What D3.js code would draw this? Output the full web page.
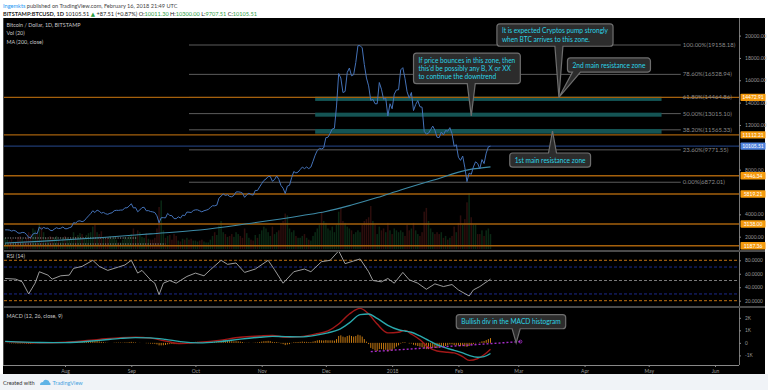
<!DOCTYPE html>
<html><head><meta charset="utf-8">
<script src="https://cdn.jsdelivr.net/npm/d3@7"></script>
<style>
html,body{margin:0;padding:0;background:#fff;}
svg{display:block;font-family:Lato,"Open Sans","DejaVu Sans",sans-serif;}
</style></head><body>
<svg id="c" width="768" height="390"></svg>
<script>
// ---------------- DATA ----------------
const startDate = "2017-07-04"; // first daily bar
const closes = [
// Jul 4-31
2610,2610,2590,2500,2560,2500,2330,2310,2380,2360,2200,1940,1920,2230,2320,2270,2870,2670,2830,2740,2760,2580,2530,2680,2800,2720,2750,2870,
// Aug
2710,2710,2800,2860,3250,3220,3390,3420,3340,3420,3650,3860,4060,4320,4160,4380,4280,4110,4170,4050,4000,4090,4140,4320,4360,4350,4380,4380,4580,4580,4740,
// Sep
4950,4570,4600,4230,4390,4600,4630,4320,4330,4250,4220,4160,3870,3240,3700,3700,3680,4080,3900,3880,3620,3610,3780,3660,3930,3880,4200,4190,4160,4340,
// Oct
4400,4400,4310,4220,4320,4370,4440,4610,4770,4760,4820,5440,5640,5820,5690,5750,5600,5570,5700,6000,6010,5980,5900,5520,5740,5890,5770,5720,6140,6130,6450,
// Nov
6750,7030,7160,7380,7390,6960,7110,7440,7130,6580,6340,5860,6530,6600,7280,7830,7700,7780,8010,8230,8090,8240,8090,8230,8750,9300,9720,9900,9850,9950,
// Dec
10860,10900,11250,11640,11700,13700,16600,16200,14900,15000,16700,17100,16400,16500,17600,19100,19100,18900,17400,16200,15500,14200,14300,13900,13900,15800,15200,14300,14400,12800,13900,
// Jan
13450,14760,15130,15150,16930,17130,16180,14970,14400,14910,13290,13830,14190,13630,13590,11430,11180,11260,11580,11900,11530,10900,10870,11360,11110,11500,11440,11760,11220,10100,10230,
// Feb 1-16
9110,8830,9220,8190,6930,7690,7580,8240,8700,8550,8070,8900,8540,9480,10040,10105.51
];
const volumes = [
12,10,9,11,8,8,13,14,11,9,12,18,16,22,20,17,28,24,18,12,11,14,13,12,14,10,8,12,
14,12,10,11,18,13,15,17,16,12,15,17,18,24,26,18,16,19,13,11,12,14,11,13,10,7,7,10,13,11,14,
16,22,15,20,18,13,12,17,11,10,10,12,22,45,52,20,12,14,15,10,16,14,9,8,11,10,12,10,11,9,
9,8,9,10,8,7,7,10,14,18,15,25,30,18,16,13,14,16,13,18,16,14,12,22,17,12,10,9,15,12,16,
20,24,22,18,14,24,16,18,20,28,30,38,36,22,18,20,14,12,12,14,16,12,10,9,14,18,22,26,40,30,
28,22,20,24,18,26,40,44,30,28,24,22,20,16,18,20,18,26,30,32,34,46,30,26,16,24,20,22,18,28,20,
16,22,20,18,20,18,14,26,20,22,28,20,16,14,18,40,44,30,22,18,16,18,16,18,12,14,10,12,14,24,18,
28,36,26,32,50,60,34,26,26,16,16,20,14,20,22,16
];
const macdHist = [
-0.02,-0.02,-0.03,-0.04,-0.04,-0.05,-0.06,-0.06,-0.05,-0.05,-0.06,-0.08,-0.08,-0.05,-0.03,-0.02,0.04,0.05,0.07,0.07,0.06,0.04,0.02,0.02,0.03,0.02,0.02,0.03,
0.02,0.01,0.02,0.03,0.07,0.08,0.1,0.11,0.1,0.1,0.12,0.14,0.16,0.18,0.15,0.15,0.12,0.08,0.06,0.03,0.01,0.0,0.0,0.02,0.03,0.03,0.03,0.02,0.04,0.04,0.06,
0.08,0.05,0.04,0.0,-0.01,0.0,0.0,-0.03,-0.04,-0.06,-0.07,-0.08,-0.12,-0.2,-0.2,-0.19,-0.17,-0.12,-0.1,-0.09,-0.1,-0.1,-0.07,-0.06,-0.02,-0.01,0.03,0.04,0.05,0.07,
0.08,0.08,0.07,0.05,0.05,0.05,0.05,0.07,0.09,0.09,0.1,0.16,0.2,0.23,0.22,0.2,0.16,0.13,0.12,0.13,0.12,0.1,0.07,0.02,0.01,0.02,0.0,-0.01,0.03,0.04,0.07,
0.1,0.13,0.14,0.16,0.14,0.08,0.06,0.07,0.03,-0.05,-0.1,-0.18,-0.13,-0.1,-0.02,0.05,0.06,0.07,0.08,0.1,0.08,0.08,0.06,0.06,0.1,0.15,0.2,0.22,0.2,0.19,
0.22,0.2,0.2,0.2,0.18,0.3,0.55,0.6,0.5,0.45,0.55,0.6,0.55,0.5,0.55,0.65,0.6,0.5,0.3,0.1,-0.1,-0.4,-0.5,-0.6,-0.65,-0.5,-0.5,-0.55,-0.55,-0.7,-0.6,
-0.6,-0.45,-0.3,-0.2,-0.05,0.05,0.05,0.0,-0.05,-0.05,-0.15,-0.2,-0.25,-0.3,-0.35,-0.45,-0.5,-0.5,-0.45,-0.4,-0.4,-0.42,-0.38,-0.3,-0.28,-0.25,-0.2,-0.12,-0.12,-0.18,-0.2,
-0.22,-0.26,-0.22,-0.28,-0.32,-0.25,-0.18,-0.1,-0.04,0.0,0.05,0.12,0.15,0.22,0.3,0.38
];
const ma200 = [["2017-07-04",1430],["2017-07-20",1580],["2017-08-17",1900],["2017-09-10",2250],["2017-10-03",2600],["2017-10-25",3150],["2017-11-20",3890],["2017-12-01",4250],["2017-12-13",4830],["2017-12-25",5500],["2018-01-05",6180],["2018-01-20",7050],["2018-02-06",8000],["2018-02-16",8250]];
const rsiPoints = [["2017-07-04",53],["2017-07-09",52],["2017-07-12",48],["2017-07-15",30],["2017-07-18",46],["2017-07-20",63],["2017-07-24",58],["2017-07-26",52],["2017-07-30",57],["2017-08-03",58],["2017-08-05",68],["2017-08-09",71],["2017-08-14",80],["2017-08-17",71],["2017-08-21",65],["2017-08-26",70],["2017-08-29",73],["2017-09-01",80],["2017-09-04",61],["2017-09-06",65],["2017-09-10",51],["2017-09-12",46],["2017-09-14",29],["2017-09-16",46],["2017-09-19",50],["2017-09-22",46],["2017-09-27",56],["2017-10-01",61],["2017-10-05",57],["2017-10-08",66],["2017-10-13",80],["2017-10-16",74],["2017-10-20",76],["2017-10-24",62],["2017-10-29",67],["2017-11-04",80],["2017-11-07",66],["2017-11-11",46],["2017-11-16",63],["2017-11-21",67],["2017-11-24",63],["2017-11-29",78],["2017-12-03",80],["2017-12-07",94],["2017-12-10",75],["2017-12-14",79],["2017-12-17",82],["2017-12-21",63],["2017-12-23",50],["2017-12-27",48],["2017-12-30",53],["2018-01-02",46],["2018-01-06",62],["2018-01-09",51],["2018-01-13",46],["2018-01-17",37],["2018-01-21",45],["2018-01-25",41],["2018-01-29",44],["2018-02-01",36],["2018-02-06",27],["2018-02-08",36],["2018-02-11",41],["2018-02-16",52]];
const macdDates = ["2017-07-04","2017-07-20","2017-08-01","2017-08-17","2017-08-27","2017-09-03","2017-09-10","2017-09-17","2017-09-24","2017-10-03","2017-10-12","2017-10-22","2017-10-31","2017-11-06","2017-11-12","2017-11-19","2017-11-26","2017-12-02","2017-12-07","2017-12-12","2017-12-17","2017-12-21","2017-12-25","2017-12-30","2018-01-04","2018-01-07","2018-01-10","2018-01-14","2018-01-18","2018-01-22","2018-01-27","2018-01-30","2018-02-03","2018-02-06","2018-02-10","2018-02-13","2018-02-16"];
const macdValues = [0.10,0.00,0.05,0.28,0.42,0.45,0.38,0.15,-0.05,0.05,0.20,0.45,0.55,0.60,0.45,0.50,0.70,0.95,1.50,2.30,2.75,2.30,1.50,0.80,0.85,1.00,0.70,0.25,-0.35,-0.65,-0.75,-0.80,-1.10,-1.40,-1.25,-0.95,-0.50];
const signalValues = [0.12,0.03,0.02,0.20,0.36,0.42,0.40,0.28,0.10,0.00,0.10,0.30,0.45,0.52,0.50,0.48,0.60,0.80,1.05,1.60,2.25,2.30,1.95,1.40,1.05,0.95,0.85,0.55,0.20,-0.15,-0.45,-0.60,-0.80,-1.00,-1.15,-1.10,-0.85];
const fibPcts = ["100.00%","78.60%","61.80%","50.00%","38.20%","23.60%","0.00%"];
const fibValues = [19158.18,16528.94,14464.86,13015.10,11565.33,9771.55,6872.01];
const fibRange = ["2017-09-28","2018-05-16"];
const zoneRange = ["2017-11-26","2018-05-07"];
const zones = [[14150,14530],[12740,13100],[11220,11640]];
const hLevels = [14472.91,11112.21,7446.34,5819.21,3138.00,1187.36];
const lastPrice = 10105.51;
const dottedLevels = [[1880,"2017-07-04","2017-09-04"],[1340,"2017-07-04","2017-09-17"]];
const priceTicks = [2000,4000,8000,12000,14000,16000,18000,20000];
const rsiTicks = [20,40,60,80];
const rsiBands = [80,70,50,30,20];
const macdTicks = [-1,0,1,2];
const monthTicks = ["2017-08-01","2017-09-01","2017-10-01","2017-11-01","2017-12-01","2018-01-01","2018-02-01","2018-03-01","2018-04-01","2018-05-01","2018-06-01"];
const monthLabels = ["Aug","Sep","Oct","Nov","Dec","2018","Feb","Mar","Apr","May","Jun"];
const divLine = [["2017-12-22",-0.7],["2018-03-02",0.1]];
const notes = [
 {pane:"main", box:["2018-02-19",21050], tip:["2018-03-20",14465], side:"bottom", lines:["It is expected Cryptos pump strongly","when BTC arrives to this zone."]},
 {pane:"main", box:["2018-03-24",18000], tip:["2018-03-20",14465], side:"bottom", baseDx:9, lines:["2nd main resistance zone"]},
 {pane:"main", box:["2018-01-11",18440], tip:["2018-02-07",12800], side:"bottom", lines:["If price bounces in this zone, then","this'd be possibly any B, X or XX","to continue the downtrend"]},
 {pane:"main", box:["2018-02-25",9490], tip:["2018-03-17",11460], side:"top", lines:["1st main resistance zone"]},
 {pane:"macd", box:["2018-01-31",2.26], tip:["2018-02-28",0], side:"bottom", lines:["Bullish div in the MACD histogram"]}
];

// ---------------- DRAW ----------------
const P = d3.utcParse("%Y-%m-%d");
const svg = d3.select("#c");
const L = {left:4, right:739, mainTop:19, mainBot:250, rsiTop:252, rsiBot:306, macdTop:308, macdBot:365};
const x = d3.scaleUtc().domain([P("2017-08-01"), P("2018-06-01")]).range([65, 715]);
const y = d3.scaleLinear().domain([0,20000]).range([259, 35.6]);
const yv = d3.scaleLinear().domain([0,60]).range([249, 193]);
const yr = d3.scaleLinear().domain([20,80]).range([300.7, 260.3]);
const ym = d3.scaleLinear().domain([-1,2]).range([355.4, 317.8]);
const d0 = P(startDate);
const days = closes.map((c,i)=>d3.utcDay.offset(d0,i));

// backgrounds
svg.append("rect").attr("x",0).attr("y",0).attr("width",768).attr("height",390).attr("fill","#fff");
svg.append("rect").attr("x",0).attr("y",374).attr("width",768).attr("height",16).attr("fill","#f0f3f7");
svg.append("rect").attr("x",3).attr("y",18).attr("width",762).attr("height",356).attr("fill","#000");

const defs = svg.append("defs");
function clip(id,y0,y1){defs.append("clipPath").attr("id",id).append("rect").attr("x",L.left).attr("y",y0).attr("width",L.right-L.left).attr("height",y1-y0);}
clip("cm",L.mainTop,L.mainBot); clip("cr",L.rsiTop,L.rsiBot); clip("cd",L.macdTop,L.macdBot);

// header
const h1 = svg.append("text").attr("x",3).attr("y",7.5).attr("font-size",5.6).attr("fill","#444");
h1.append("tspan").attr("fill","#2196f3").text("Ingemkts");
h1.append("tspan").text(" published on TradingView.com, February 16, 2018 21:49 UTC");
const h2 = svg.append("text").attr("x",3).attr("y",16).attr("font-size",5.6).attr("fill","#222");
h2.append("tspan").attr("font-weight","bold").text("BITSTAMP:BTCUSD, 1D");
h2.append("tspan").text("  10105.51 ");
h2.append("tspan").attr("fill","#2e9e44").text("▲");
h2.append("tspan").text(" +87.51 (+0.87%) O:");
h2.append("tspan").attr("fill","#2e9e44").text("10011.30");
h2.append("tspan").text(" H:");
h2.append("tspan").attr("fill","#2e9e44").text("10300.00");
h2.append("tspan").text(" L:");
h2.append("tspan").attr("fill","#2e9e44").text("9707.51");
h2.append("tspan").text(" C:");
h2.append("tspan").attr("fill","#2e9e44").text("10105.51");

// ---- main pane
const gm = svg.append("g").attr("clip-path","url(#cm)");
// volume
const bw = (x(d3.utcDay.offset(d0,1))-x(d0))*0.7;
gm.append("g").selectAll("rect").data(volumes).join("rect")
  .attr("x",(v,i)=>x(days[i])-bw/2).attr("width",bw)
  .attr("y",v=>yv(v)).attr("height",v=>yv(0)-yv(v))
  .attr("fill",(v,i)=> (i===0 || closes[i]>=closes[i-1]) ? "#1f7a3c" : "#8a2a28").attr("opacity",0.33);
// fib lines
gm.append("g").selectAll("line").data(fibValues).join("line")
  .attr("x1",x(P(fibRange[0]))).attr("x2",x(P(fibRange[1])))
  .attr("y1",v=>y(v)).attr("y2",v=>y(v)).attr("stroke","#5c5c5c").attr("stroke-width",1);
// zones
gm.append("g").selectAll("rect").data(zones).join("rect")
  .attr("x",x(P(zoneRange[0]))).attr("width",x(P(zoneRange[1]))-x(P(zoneRange[0])))
  .attr("y",z=>y(z[1])).attr("height",z=>y(z[0])-y(z[1])).attr("fill","#145454");
// orange levels
gm.append("g").selectAll("line").data(hLevels).join("line")
  .attr("x1",L.left).attr("x2",L.right).attr("y1",v=>y(v)).attr("y2",v=>y(v))
  .attr("stroke","#a5600c").attr("stroke-width",1.4);
// last price line
gm.append("line").attr("x1",L.left).attr("x2",L.right).attr("y1",y(lastPrice)).attr("y2",y(lastPrice))
  .attr("stroke","#1e3a72").attr("stroke-width",1.3);
// dotted
gm.append("g").selectAll("line").data(dottedLevels).join("line")
  .attr("x1",d=>x(P(d[1]))).attr("x2",d=>x(P(d[2]))).attr("y1",d=>y(d[0])).attr("y2",d=>y(d[0]))
  .attr("stroke","#cfcfcf").attr("stroke-width",0.8).attr("stroke-dasharray","1,1.5");
// MA200
gm.append("path").datum(ma200).attr("fill","none").attr("stroke","#3d8aa6").attr("stroke-width",1.1)
  .attr("d",d3.line().curve(d3.curveMonotoneX).x(d=>x(P(d[0]))).y(d=>y(d[1])));
// price
gm.append("path").datum(closes).attr("fill","none").attr("stroke","#4472b8").attr("stroke-width",1)
  .attr("d",d3.line().x((c,i)=>x(days[i])).y(c=>y(c)));
// fib labels
svg.append("g").selectAll("text").data(fibValues).join("text")
  .attr("x",x(P(fibRange[1]))+2).attr("y",v=>y(v)+2).attr("font-size",6).attr("fill","#8a8a8a")
  .text((v,i)=>fibPcts[i]+"("+d3.format(".2f")(v)+")");
// pane labels
[["Bitcoin / Dollar, 1D, BITSTAMP",26.5],["Vol (20)",35],["MA (200, close)",43.5],["RSI (14)",258],["MACD (12, 26, close, 9)",318]]
 .forEach(t=>svg.append("text").attr("x",6.5).attr("y",t[1]).attr("font-size",5.4).attr("fill","#c8c8c8").text(t[0]));

// ---- RSI pane
const gr = svg.append("g").attr("clip-path","url(#cr)");
const bandCol = {80:"#c07010",70:"#1c2a8c",50:"#7a7a7a",30:"#1c2a8c",20:"#c07010"};
gr.append("g").selectAll("line").data(rsiBands).join("line")
  .attr("x1",L.left).attr("x2",L.right).attr("y1",v=>yr(v)).attr("y2",v=>yr(v))
  .attr("stroke",v=>bandCol[v]).attr("stroke-width",1).attr("stroke-dasharray","3,2");
gr.append("path").datum(rsiPoints).attr("fill","none").attr("stroke","#ababab").attr("stroke-width",0.9)
  .attr("d",d3.line().x(d=>x(P(d[0]))).y(d=>yr(d[1])));

// ---- MACD pane
const gd = svg.append("g").attr("clip-path","url(#cd)");
gd.append("g").selectAll("line").data(macdHist).join("line")
  .attr("x1",(v,i)=>x(days[i])).attr("x2",(v,i)=>x(days[i]))
  .attr("y1",ym(0)).attr("y2",v=>ym(v)).attr("stroke","#c77a12").attr("stroke-width",1);
const mline = d3.line().curve(d3.curveMonotoneX).x(d=>x(P(d[0]))).y(d=>ym(d[1]));
gd.append("path").datum(macdDates.map((d,i)=>[d,macdValues[i]])).attr("fill","none").attr("stroke","#a31818").attr("stroke-width",1.4).attr("d",mline);
gd.append("path").datum(macdDates.map((d,i)=>[d,signalValues[i]])).attr("fill","none").attr("stroke","#2aa9ad").attr("stroke-width",1.4).attr("d",mline);
gd.append("path").datum(divLine).attr("fill","none").attr("stroke","#a42cc8").attr("stroke-width",1.4)
  .attr("stroke-dasharray","2,2").attr("d",d3.line().x(d=>x(P(d[0]))).y(d=>ym(d[1])));
gd.append("circle").attr("cx",x(P(divLine[1][0]))).attr("cy",ym(divLine[1][1])).attr("r",1.5)
  .attr("fill","none").attr("stroke","#a42cc8").attr("stroke-width",0.8);

// ---- frames
const fr = svg.append("g").attr("stroke","#4a4a4a");
fr.append("line").attr("x1",3.5).attr("x2",3.5).attr("y1",18).attr("y2",L.macdBot);
fr.append("line").attr("x1",L.right+0.5).attr("x2",L.right+0.5).attr("y1",18).attr("y2",L.macdBot).attr("stroke","#777");
fr.append("line").attr("x1",3).attr("x2",765).attr("y1",251).attr("y2",251).attr("stroke-width",2);
fr.append("line").attr("x1",3).attr("x2",765).attr("y1",307).attr("y2",307).attr("stroke-width",2);
fr.append("line").attr("x1",3).attr("x2",L.right).attr("y1",L.macdBot+0.5).attr("y2",L.macdBot+0.5).attr("stroke","#888");

// axes
function styleAxis(g,fs){g.select(".domain").remove();g.selectAll("line").attr("stroke","#888");g.selectAll("text").attr("fill","#9a9a9a").attr("font-size",fs).attr("font-family","Lato,'Open Sans',sans-serif");}
svg.append("g").attr("transform",`translate(${L.right},0)`)
  .call(d3.axisRight(y).tickValues(priceTicks).tickSize(2).tickPadding(4).tickFormat(d3.format(".2f")))
  .call(g=>styleAxis(g,5));
svg.append("g").attr("transform",`translate(${L.right},0)`)
  .call(d3.axisRight(yr).tickValues(rsiTicks).tickSize(2).tickPadding(4).tickFormat(d3.format(".4f")))
  .call(g=>styleAxis(g,4.8));
svg.append("g").attr("transform",`translate(${L.right},0)`)
  .call(d3.axisRight(ym).tickValues(macdTicks).tickSize(2).tickPadding(4).tickFormat(v=>v===0?"0":v+"K"))
  .call(g=>styleAxis(g,4.8));
svg.append("g").attr("transform",`translate(0,${L.macdBot})`)
  .call(d3.axisBottom(x).tickValues(monthTicks.map(P)).tickSize(2).tickPadding(2).tickFormat((d,i)=>monthLabels[i]))
  .call(g=>styleAxis(g,5));

// price labels on axis
function axLabel(v,col){
  const g = svg.append("g");
  g.append("rect").attr("x",L.right+1.5).attr("y",y(v)-3.7).attr("width",25).attr("height",7.4).attr("fill",col).attr("rx",0.8);
  g.append("text").attr("x",L.right+14).attr("y",y(v)+1.9).attr("text-anchor","middle").attr("font-size",5).attr("fill","#fff")
   .text(d3.format(".2f")(v));
}
hLevels.forEach(v=>axLabel(v,"#f59a0c"));
axLabel(lastPrice,"#4f82dd");

// callouts
function callout(n){
  const ys = n.pane==="main"?y:ym;
  const bx = x(P(n.box[0])), by = ys(n.box[1]);
  const tx = x(P(n.tip[0])), ty = ys(n.tip[1]);
  const g = svg.append("g");
  const fs = 6.6, lh = 8.2;
  const tmp = g.append("g");
  let w = 0;
  n.lines.forEach((t)=>{const e = tmp.append("text").attr("font-size",fs).text(t); w=Math.max(w,e.node().getComputedTextLength());});
  tmp.remove();
  const W = w+10, H = n.lines.length*lh+6, r=3;
  const x0=bx, x1=bx+W, y0=by, y1=by+H;
  const bc = n.baseDx!=null ? x0+n.baseDx : tx, hw=4;
  let p;
  if(n.side==="bottom"){
    p = `M${x0+r},${y0}H${x1-r}A${r},${r} 0 0 1 ${x1},${y0+r}V${y1-r}A${r},${r} 0 0 1 ${x1-r},${y1}H${bc+hw}L${tx},${ty}L${bc-hw},${y1}H${x0+r}A${r},${r} 0 0 1 ${x0},${y1-r}V${y0+r}A${r},${r} 0 0 1 ${x0+r},${y0}Z`;
  } else {
    p = `M${x0+r},${y0}H${bc-hw}L${tx},${ty}L${bc+hw},${y0}H${x1-r}A${r},${r} 0 0 1 ${x1},${y0+r}V${y1-r}A${r},${r} 0 0 1 ${x1-r},${y1}H${x0+r}A${r},${r} 0 0 1 ${x0},${y1-r}V${y0+r}A${r},${r} 0 0 1 ${x0+r},${y0}Z`;
  }
  g.append("path").attr("d",p).attr("fill","#2c2c2c").attr("stroke","#6e6e6e").attr("stroke-width",1.2);
  n.lines.forEach((t,i)=>g.append("text").attr("x",x0+5).attr("y",y0+3+lh*(i+1)-1.6).attr("font-size",fs).attr("fill","#2bd4e6").text(t));
}
notes.forEach(callout);

// footer
svg.append("text").attr("x",3).attr("y",385).attr("font-size",5.6).attr("fill","#333").text("Created with");
const logo = svg.append("g").attr("transform","translate(40,379)");
logo.append("path").attr("d","M0,6 Q0,3 3,3 Q4,0 7,1 Q9,1 9.5,3.5 Q11,4 10.5,6 Z").attr("fill","#5fb4e6");
svg.append("text").attr("x",52.5).attr("y",385).attr("font-size",5.6).attr("fill","#4aa3df").text("TradingView");
</script>
</body></html>
